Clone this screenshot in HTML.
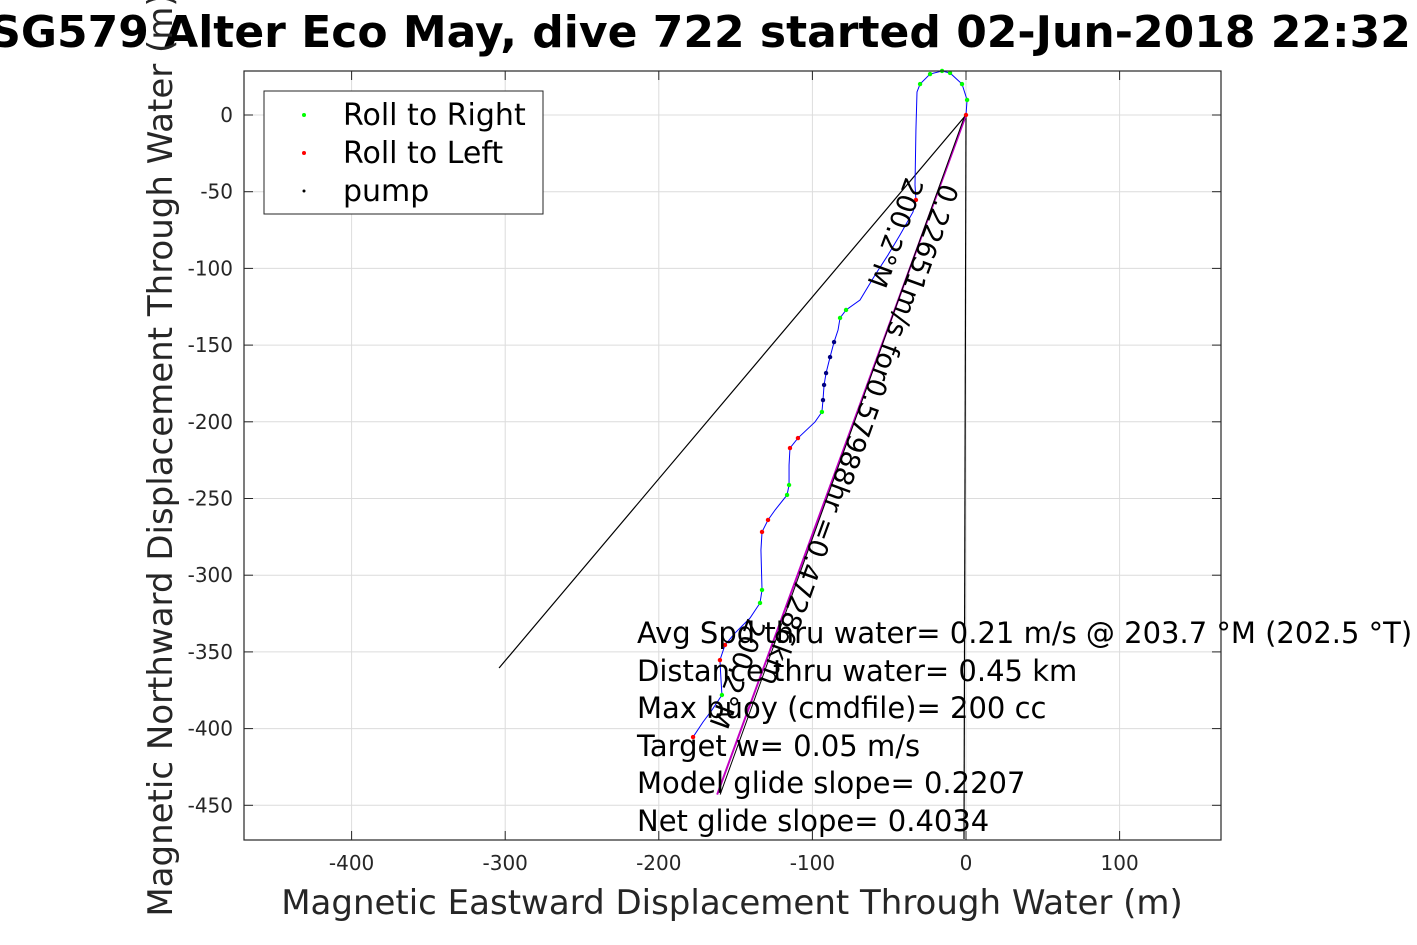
<!DOCTYPE html>
<html><head><meta charset="utf-8">
<style>
html,body{margin:0;padding:0;background:#fff;}
svg{display:block;font-family:"DejaVu Sans","Liberation Sans",sans-serif;}
</style></head>
<body>
<svg id="chart" width="1417" height="945" viewBox="0 0 1417 945" xmlns="http://www.w3.org/2000/svg">
<rect x="0" y="0" width="1417" height="945" fill="#fff"/>
<text x="700" y="47" text-anchor="middle" font-size="44" font-weight="bold" fill="#000">SG579 Alter Eco May, dive 722 started 02-Jun-2018 22:32</text>
<g id="grid"></g>
<g id="plot"></g>
<rect x="244" y="71" width="977" height="769" fill="none" stroke="#262626" stroke-width="1.2"/>
<g id="ticks"></g>
<text x="732" y="914" text-anchor="middle" font-size="34" fill="#262626">Magnetic Eastward Displacement Through Water (m)</text>
<text transform="translate(172,455) rotate(-90)" text-anchor="middle" font-size="34" fill="#262626">Magnetic Northward Displacement Through Water (m)</text>
<g>
<rect x="264" y="91" width="279" height="123" fill="#fff" stroke="#262626" stroke-width="1"/>
<circle cx="304" cy="115" r="2" fill="#00ff00"/>
<text x="343" y="125" font-size="30" fill="#000">Roll to Right</text>
<circle cx="304" cy="153" r="2" fill="#ff0000"/>
<text x="343" y="163" font-size="30" fill="#000">Roll to Left</text>
<circle cx="304" cy="191" r="1.5" fill="#000"/>
<text x="343" y="201" font-size="30" fill="#000">pump</text>
</g>
<g font-size="29" fill="#000">
<text x="637" y="643">Avg Spd thru water=  0.21 m/s @ 203.7 °M (202.5 °T)</text>
<text x="637" y="681">Distance thru water=  0.45 km</text>
<text x="637" y="718">Max buoy (cmdfile)= 200 cc</text>
<text x="637" y="756">Target w= 0.05 m/s</text>
<text x="637" y="793">Model glide slope= 0.2207</text>
<text x="637" y="831">Net glide slope= 0.4034</text>
</g>
<script>
const xTicks=[-400,-300,-200,-100,0,100];
const yTicks=[0,-50,-100,-150,-200,-250,-300,-350,-400,-450];
const trackX=[0,0.7,-2.6,-10.4,-15.6,-23.4,-29.9,-31.9,-32.6,-33.2,-32.6,-34.5,-43,-50.8,-59.2,-69,-78.1,-82,-83.3,-85.9,-88.5,-91.1,-92.4,-93.1,-93.8,-98.3,-109.4,-114.6,-115.2,-115.2,-116.5,-124.3,-128.9,-132.8,-133.5,-132.8,-134.1,-140.6,-150.4,-156.9,-160.2,-159.5,-158.9,-165.4,-171.2,-177.7];
const trackY=[0,9.8,20.2,27.4,28.7,26.7,20.2,15,-9.8,-45.6,-55.4,-63.2,-78.2,-91.3,-104.3,-120.6,-127.1,-132.3,-140.2,-148,-157.8,-168.2,-176,-185.8,-193.6,-200.1,-210.6,-217.1,-228.2,-241.2,-247.7,-257.5,-264,-271.8,-283.6,-309.6,-318.1,-327.9,-337.7,-345.5,-355.3,-368.3,-378.1,-387.9,-395.7,-405.5];
const markerType=["r","g","g","g","g","g","g","","","","r","","","","","","g","g","","k","k","k","k","k","g","","r","r","","g","g","","r","r","","g","g","","","r","r","","g","","","r"];
const currentEnd=[-304,-360.5];
const netEnd=[-162,-443];
const vertEnd=[-1.3,-472];

const NS="http://www.w3.org/2000/svg";
const X=v=>966+v*1.536, Y=v=>115-v*1.534;
function mk(tag,attrs,parent){const e=document.createElementNS(NS,tag);for(const k in attrs)e.setAttribute(k,attrs[k]);parent.appendChild(e);return e;}
const grid=document.getElementById('grid'),plot=document.getElementById('plot'),ticks=document.getElementById('ticks');
xTicks.forEach(t=>{
 const l=mk('line',{x1:X(t),x2:X(t),y1:71,y2:840,stroke:'#dcdcdc','stroke-width':1},grid);
 
 
 const a=mk('line',{x1:X(t),x2:X(t),y1:840,y2:831,stroke:'#262626'},ticks);
 
 
 const b=mk('line',{x1:X(t),x2:X(t),y1:71,y2:80,stroke:'#262626'},ticks);
 
 
 const tx=mk('text',{x:X(t),y:870,'text-anchor':'middle','font-size':20,fill:'#262626'},ticks);
 tx.textContent=t;
 
 
});
yTicks.forEach(t=>{
 const l=mk('line',{x1:244,x2:1221,y1:Y(t),y2:Y(t),stroke:'#dcdcdc','stroke-width':1},grid);
 
 
 const a=mk('line',{x1:244,x2:253,y1:Y(t),y2:Y(t),stroke:'#262626'},ticks);
 
 
 const b=mk('line',{x1:1212,x2:1221,y1:Y(t),y2:Y(t),stroke:'#262626'},ticks);
 
 
 const tx=mk('text',{x:233,y:Y(t)+7,'text-anchor':'end','font-size':20,fill:'#262626'},ticks);
 tx.textContent=t;
 
 
});
const l1=mk('line',{x1:X(0),y1:Y(0),x2:X(currentEnd[0]),y2:Y(currentEnd[1]),stroke:'#000','stroke-width':1.2},plot);


const l2=mk('line',{x1:X(0),y1:Y(0),x2:X(vertEnd[0]),y2:Y(vertEnd[1]),stroke:'#000','stroke-width':1.2},plot);


const l3=mk('line',{x1:X(0),y1:Y(0),x2:X(netEnd[0]),y2:Y(netEnd[1]),stroke:'#c000c0','stroke-width':2},plot);


const l4=mk('line',{x1:X(0)-1,y1:Y(0),x2:X(netEnd[0])+3,y2:Y(netEnd[1]),stroke:'#000','stroke-width':1},plot);


const tr=mk('polyline',{points:trackX.map((x,i)=>X(x)+','+Y(trackY[i])).join(' '),fill:'none',stroke:'#0000ff','stroke-width':1},plot);


const col={g:'#00ff00',r:'#ff0000',k:'#000080'};
trackX.forEach((x,i)=>{const m=markerType[i];if(!m)return;
 const c=mk('circle',{cx:X(x),cy:Y(trackY[i]),r:2.2,fill:col[m]},plot);
 
 
});
const t1=mk('text',{transform:'translate(941,182) rotate(110)','font-size':27,fill:'#000'},plot);
t1.textContent='0.22651m/s for0.57988hr =0.47286km';


const t2=mk('text',{transform:'translate(906,176) rotate(110)','font-size':27,fill:'#000'},plot);
t2.textContent='200.2°M';


const t3=mk('text',{transform:'translate(748,617) rotate(110)','font-size':27,fill:'#000'},plot);
t3.textContent='200.2°M';


</script>
</svg>
</body></html>
